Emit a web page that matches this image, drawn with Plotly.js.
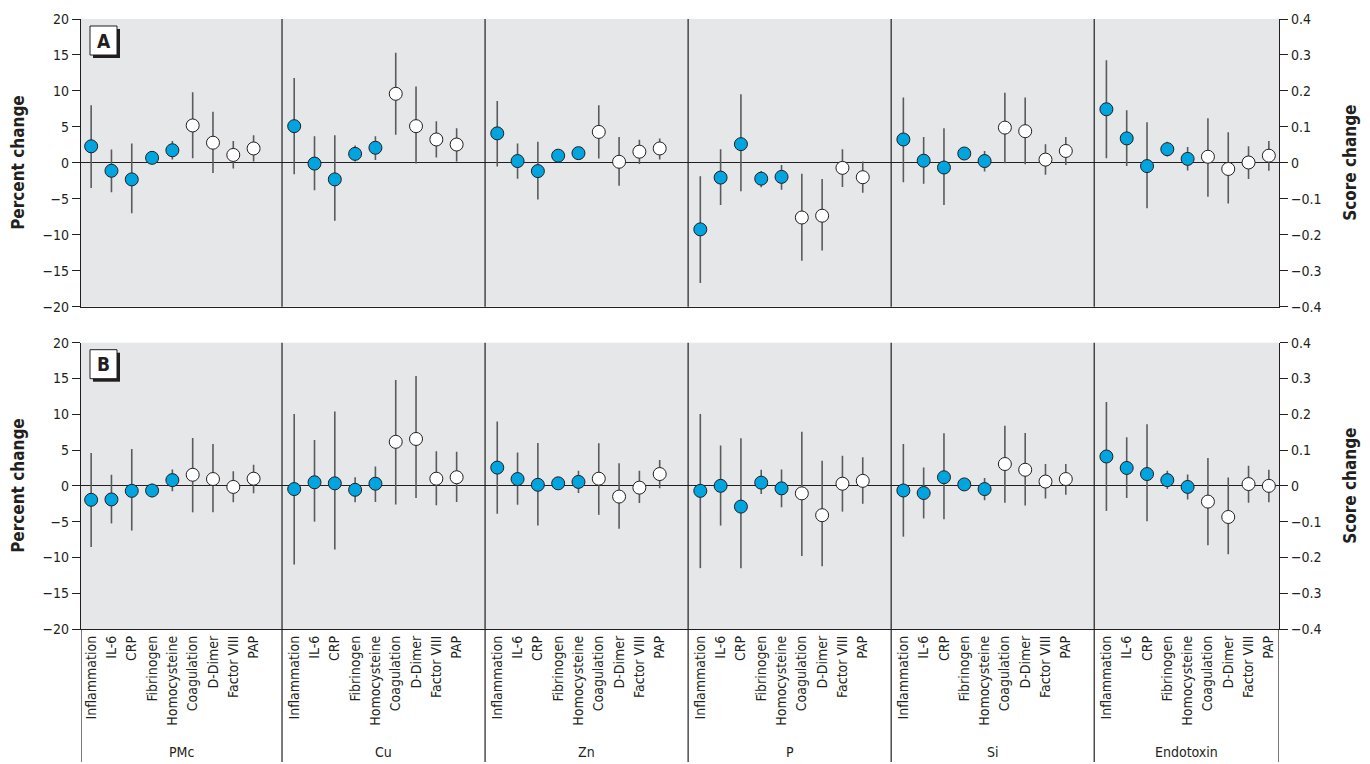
<!DOCTYPE html>
<html>
<head>
<meta charset="utf-8">
<script src="https://cdn.plot.ly/plotly-3.0.1.min.js"></script>
<style>html,body{margin:0;padding:0;background:#fff;}#chart{width:1370px;height:764px;}</style>
</head>
<body>
<div id="chart"></div>
<script>
// ---------- DATA ----------
const groups = ['PMc', 'Cu', 'Zn', 'P', 'Si', 'Endotoxin'];
const markers = ['Inflammation', 'IL-6', 'CRP', 'Fibrinogen', 'Homocysteine', 'Coagulation', 'D-Dimer', 'Factor VIII', 'PAP'];
// filled (inflammation markers) vs open (coagulation markers)
const filledMarker = [true, true, true, true, true, false, false, false, false];
// Inflammation and Coagulation are scores (right axis), others percent change (left axis)
const isScore = [true, false, false, false, false, true, false, false, false];

// Panel A estimates, per group (rows) and marker (columns)
const estA = [
  [0.046, -1.1, -2.3, 0.7, 1.75, 0.104, 2.8, 1.1, 2.0],
  [0.102, -0.1, -2.3, 1.25, 2.1, 0.192, 5.1, 3.25, 2.55],
  [0.082, 0.25, -1.15, 1.0, 1.35, 0.086, 0.15, 1.55, 2.0],
  [-0.185, -2.05, 2.6, -2.2, -1.95, -0.152, -7.35, -0.7, -2.0],
  [0.065, 0.3, -0.65, 1.3, 0.25, 0.098, 4.4, 0.45, 1.65],
  [0.149, 3.4, -0.45, 1.9, 0.55, 0.017, -0.85, 0.05, 1.0]
];
const lowA = [
  [-0.07, -4.1, -7.0, 0.3, 0.45, 0.013, -1.4, -0.8, 0.2],
  [-0.032, -3.8, -8.05, 0.2, 0.4, 0.078, -0.1, 0.75, 0.2],
  [-0.01, -2.2, -5.1, 0.6, 0.45, 0.012, -3.2, -0.15, 0.45],
  [-0.334, -5.85, -3.95, -3.4, -3.75, -0.272, -12.2, -3.35, -4.15],
  [-0.054, -2.9, -5.85, 0.9, -1.2, -0.001, -0.2, -1.65, -0.3],
  [0.013, -0.45, -6.3, 0.9, -1.05, -0.094, -5.65, -2.25, -1.1]
];
const highA = [
  [0.16, 1.85, 2.7, 1.1, 3.05, 0.196, 7.1, 3.05, 3.85],
  [0.236, 3.7, 3.85, 2.4, 3.7, 0.306, 10.6, 5.8, 4.8],
  [0.172, 2.7, 2.95, 1.4, 2.2, 0.16, 3.6, 3.2, 3.4],
  [-0.037, 1.9, 9.55, -1.15, -0.3, -0.03, -2.25, 1.9, 0.2],
  [0.182, 3.6, 4.8, 1.7, 1.65, 0.195, 9.1, 2.6, 3.6],
  [0.285, 7.3, 5.65, 2.95, 2.2, 0.124, 4.25, 2.3, 3.05]
];

// Panel B
const estB = [
  [-0.039, -1.9, -0.7, -0.65, 0.8, 0.031, 0.95, -0.15, 1.0],
  [-0.009, 0.5, 0.35, -0.55, 0.3, 0.123, 6.55, 1.0, 1.2],
  [0.051, 0.95, 0.15, 0.35, 0.55, 0.02, -1.5, -0.25, 1.65],
  [-0.014, 0.0, -2.9, 0.45, -0.35, -0.021, -4.1, 0.3, 0.7],
  [-0.013, -1.0, 1.2, 0.2, -0.45, 0.061, 2.25, 0.6, 0.95],
  [0.082, 2.5, 1.65, 0.8, -0.15, -0.044, -4.35, 0.25, 0.0]
];
const lowB = [
  [-0.171, -5.25, -6.25, -1.6, -0.75, -0.074, -3.7, -2.3, -1.05],
  [-0.22, -5.0, -8.9, -2.3, -2.25, -0.052, -1.7, -2.7, -2.25],
  [-0.078, -2.65, -5.55, -0.2, -1.0, -0.081, -6.0, -2.4, -0.35],
  [-0.23, -5.55, -11.5, -1.15, -3.0, -0.196, -11.25, -3.6, -2.5],
  [-0.142, -4.55, -4.65, -0.6, -2.0, -0.047, -2.75, -1.75, -1.25],
  [-0.07, -1.7, -4.95, -0.45, -1.9, -0.166, -9.55, -2.35, -2.3]
];
const highB = [
  [0.092, 1.55, 5.15, 0.3, 2.3, 0.134, 5.85, 2.05, 2.95],
  [0.201, 6.4, 10.4, 1.2, 2.7, 0.296, 15.35, 4.85, 4.75],
  [0.18, 4.65, 6.0, 0.9, 2.1, 0.119, 3.15, 2.1, 3.6],
  [0.201, 5.65, 6.65, 2.25, 2.3, 0.151, 3.5, 4.2, 4.0],
  [0.117, 2.55, 7.35, 0.9, 1.1, 0.168, 7.4, 3.05, 3.05],
  [0.234, 6.8, 8.6, 2.1, 1.6, 0.078, 1.15, 2.8, 2.25]
];

const pctTicks = [-20, -15, -10, -5, 0, 5, 10, 15, 20];
const scoreTicks = [-0.4, -0.3, -0.2, -0.1, 0, 0.1, 0.2, 0.3, 0.4];

// ---------- STYLE ----------
const FONT = '"Liberation Sans Narrow", "DejaVu Sans Condensed", "Arial Narrow", sans-serif';
const INK = '#231f20';
const BLUE = '#00a5e0';
const BAR = '#5a5b5d';
const BG = '#e6e7e8';

function slotX(g, i) { return g * 10 + i + 0.5; }

function buildTraces(est, low, high, xa, yPct, yScore) {
  const traces = [];
  [true, false].forEach(function (fill) {
    [false, true].forEach(function (score) {
      const x = [], y = [], ep = [], em = [], txt = [];
      groups.forEach(function (gName, g) {
        markers.forEach(function (m, i) {
          if (filledMarker[i] !== fill || isScore[i] !== score) return;
          x.push(slotX(g, i));
          y.push(est[g][i]);
          ep.push(high[g][i] - est[g][i]);
          em.push(est[g][i] - low[g][i]);
          txt.push(gName + ' – ' + m);
        });
      });
      traces.push({
        type: 'scatter', mode: 'markers', x: x, y: y, text: txt,
        xaxis: xa, yaxis: score ? yScore : yPct,
        cliponaxis: false, showlegend: false,
        marker: { symbol: 'circle', size: 13, color: fill ? BLUE : '#ffffff', line: { color: INK, width: 1 } },
        error_y: { type: 'data', symmetric: false, array: ep, arrayminus: em, color: BAR, thickness: 1.6, width: 0 }
      });
    });
  });
  return traces;
}

const data = [].concat(
  buildTraces(estA, lowA, highA, 'x', 'y', 'y2'),
  buildTraces(estB, lowB, highB, 'x2', 'y3', 'y4')
);

// ---------- LAYOUT ----------
const W = 1370, H = 764, ML = 81, MR = 91, MT = 19, MB = 135;
const PW = W - ML - MR, PH = H - MT - MB;
function pxX(px) { return (px - ML) / PW; }
function pxY(py) { return (H - MB - py) / PH; }

const domA = [pxY(306.7), 1];
const domB = [0, pxY(342.7)];
const xRange = [0, 59];

const tickVals = [], tickText = [];
groups.forEach(function (g, gi) { markers.forEach(function (m, i) { tickVals.push(slotX(gi, i)); tickText.push(m); }); });

function pctAxis(dom, anchor) {
  return {
    domain: dom, anchor: anchor, range: [-20, 20], tickvals: pctTicks, showgrid: false,
    zeroline: true, zerolinecolor: INK, zerolinewidth: 1.2,
    showline: true, linecolor: INK, linewidth: 1.2, ticks: 'outside', ticklen: 8, tickwidth: 1, tickcolor: INK,
    tickfont: { family: FONT, size: 14, color: INK }, fixedrange: true
  };
}
function scoreAxis(over, anchor) {
  return {
    overlaying: over, anchor: anchor, side: 'right', range: [-0.4, 0.4], tickvals: scoreTicks,
    showgrid: false, zeroline: false,
    showline: true, linecolor: INK, linewidth: 1.2, ticks: 'outside', ticklen: 8, tickwidth: 1, tickcolor: INK,
    tickfont: { family: FONT, size: 14, color: INK }, fixedrange: true
  };
}

const shapes = [];
const annotations = [];
// group separators inside panels and down through the label area
[['x', 'y domain'], ['x2', 'y3 domain']].forEach(function (r) {
  for (let g = 1; g < groups.length; g++) {
    shapes.push({ type: 'line', xref: r[0], yref: r[1], x0: g * 10 - 0.1, x1: g * 10 - 0.1, y0: 0, y1: 1, line: { color: INK, width: 1.2 }, layer: 'above' });
  }
});
const lowY = pxY(762);
for (let g = 0; g <= groups.length; g++) {
  const xv = g === groups.length ? xRange[1] : (g === 0 ? 0 : g * 10 - 0.1);
  shapes.push({ type: 'line', xref: 'x2', yref: 'paper', x0: xv, x1: xv, y0: 0, y1: lowY, line: { color: INK, width: 1.2 } });
}
// group labels
groups.forEach(function (g, gi) {
  const left = gi === 0 ? 0 : gi * 10 - 0.1;
  const right = gi === groups.length - 1 ? xRange[1] : (gi + 1) * 10 - 0.1;
  annotations.push({ xref: 'x2', yref: 'paper', x: (left + right) / 2, y: pxY(752), text: g, showarrow: false,
    xanchor: 'center', yanchor: 'middle', font: { family: FONT, size: 14, color: INK } });
});
// panel letter boxes
[['A', 19], ['B', 342.7]].forEach(function (p) {
  const top = p[1] + 7, bot = p[1] + 36, l = 90, r = 117;
  shapes.push({ type: 'rect', xref: 'paper', yref: 'paper', x0: pxX(l + 3), x1: pxX(r + 3), y0: pxY(bot + 3), y1: pxY(top + 3), fillcolor: INK, line: { width: 0 }, layer: 'above' });
  shapes.push({ type: 'rect', xref: 'paper', yref: 'paper', x0: pxX(l), x1: pxX(r), y0: pxY(bot), y1: pxY(top), fillcolor: '#ffffff', line: { color: INK, width: 1 }, layer: 'above' });
  annotations.push({ xref: 'paper', yref: 'paper', x: pxX((l + r) / 2), y: pxY((top + bot) / 2), text: '<b>' + p[0] + '</b>', showarrow: false,
    xanchor: 'center', yanchor: 'middle', font: { family: FONT, size: 19, color: INK } });
});
// axis titles
[[domA, 'A'], [domB, 'B']].forEach(function (d) {
  const yc = (d[0][0] + d[0][1]) / 2;
  annotations.push({ xref: 'paper', yref: 'paper', x: pxX(18), y: yc, text: '<b>Percent change</b>', textangle: -90, showarrow: false,
    xanchor: 'center', yanchor: 'middle', font: { family: FONT, size: 17, color: INK } });
  annotations.push({ xref: 'paper', yref: 'paper', x: pxX(1350), y: yc, text: '<b>Score change</b>', textangle: -90, showarrow: false,
    xanchor: 'center', yanchor: 'middle', font: { family: FONT, size: 17, color: INK } });
});

const layout = {
  width: W, height: H, margin: { l: ML, r: MR, t: MT, b: MB },
  paper_bgcolor: '#ffffff', plot_bgcolor: BG, showlegend: false,
  font: { family: FONT, color: INK },
  xaxis: { domain: [0, 1], anchor: 'y', range: xRange, showgrid: false, zeroline: false, showticklabels: false,
    showline: true, linecolor: INK, linewidth: 1.2, ticks: '', fixedrange: true },
  xaxis2: { domain: [0, 1], anchor: 'y3', range: xRange, showgrid: false, zeroline: false,
    tickvals: tickVals, ticktext: tickText, tickangle: -90, ticks: '',
    tickfont: { family: FONT, size: 14, color: INK },
    showline: true, linecolor: INK, linewidth: 1.2, fixedrange: true },
  yaxis: pctAxis(domA, 'x'),
  yaxis2: scoreAxis('y', 'x'),
  yaxis3: pctAxis(domB, 'x2'),
  yaxis4: scoreAxis('y3', 'x2'),
  shapes: shapes,
  annotations: annotations
};

Plotly.newPlot('chart', data, layout, { displayModeBar: false, staticPlot: true });
</script>
</body>
</html>
